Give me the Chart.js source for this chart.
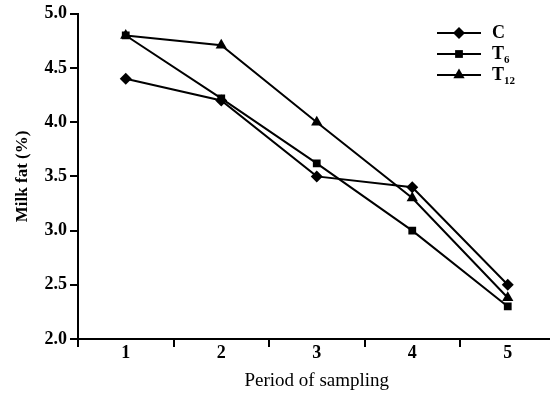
<!DOCTYPE html>
<html>
<head>
<meta charset="utf-8">
<script src="https://cdn.jsdelivr.net/npm/chart.js@4/dist/chart.umd.min.js"></script>
<style>
  html, body { margin: 0; padding: 0; background: #fff; overflow: hidden; }
  #wrap { width: 562px; height: 395px; position: relative; }
</style>
</head>
<body>
<div id="wrap"><canvas id="fatChart"></canvas></div>
<script>
const periods = ["1", "2", "3", "4", "5"];
const seriesNames = ["C", "T6", "T12"];
const milkFatC = [4.4, 4.2, 3.5, 3.4, 2.5];
const milkFatT6 = [4.8, 4.22, 3.62, 3.0, 2.3];
const milkFatT12 = [4.8, 4.71, 4.0, 3.3, 2.38];
const yTicks = [2.0, 2.5, 3.0, 3.5, 4.0, 4.5, 5.0];

const serif = "'Liberation Serif', 'DejaVu Serif', serif";
const markers = ["rectRot", "rect", "triangle"];
const markerSize = [6, 5.5, 6.5];

// legend with subscripts, drawn by hand
const legendPlugin = {
  id: "subLegend",
  afterDraw(chart) {
    const ctx = chart.ctx;
    const rows = [
      { y: 33, main: "C", sub: "" },
      { y: 54, main: "T", sub: "6" },
      { y: 75, main: "T", sub: "12" }
    ];
    ctx.save();
    rows.forEach((row, i) => {
      ctx.strokeStyle = "#000";
      ctx.lineWidth = 2;
      ctx.beginPath();
      ctx.moveTo(437, row.y);
      ctx.lineTo(481, row.y);
      ctx.stroke();
      Chart.helpers.drawPoint(ctx, {
        pointStyle: markers[i],
        radius: markerSize[i],
        borderWidth: 0
      }, 459, row.y);
      ctx.fillStyle = "#000";
      ctx.textBaseline = "middle";
      ctx.font = "bold 18px " + serif;
      ctx.fillText(row.main, 492, row.y);
      if (row.sub) {
        const w = ctx.measureText(row.main).width;
        ctx.font = "bold 11px " + serif;
        ctx.fillText(row.sub, 492 + w, row.y + 6);
      }
    });
    ctx.restore();
  }
};

const makeSet = (label, data, i) => ({
  label,
  data,
  borderColor: "#000",
  backgroundColor: "#000",
  borderWidth: 2,
  pointStyle: markers[i],
  pointRadius: markerSize[i],
  pointBorderWidth: 0,
  pointBackgroundColor: "#000",
  tension: 0
});

new Chart(document.getElementById("fatChart"), {
  type: "line",
  data: {
    labels: periods,
    datasets: [
      makeSet(seriesNames[0], milkFatC, 0),
      makeSet(seriesNames[1], milkFatT6, 1),
      makeSet(seriesNames[2], milkFatT12, 2)
    ]
  },
  options: {
    responsive: true,
    maintainAspectRatio: false,
    animation: false,
    layout: { padding: { top: 13, right: 0, bottom: 0, left: 0 } },
    plugins: {
      legend: { display: false },
      tooltip: { enabled: false }
    },
    scales: {
      x: {
        offset: true,
        grid: {
          display: true,
          offset: true,
          drawOnChartArea: false,
          drawTicks: true,
          tickLength: 8,
          color: "#000",
          lineWidth: 2
        },
        border: { display: true, color: "#000", width: 2 },
        ticks: {
          color: "#000",
          font: { family: serif, size: 18, weight: "bold" },
          padding: -4
        },
        title: {
          display: true,
          text: "Period of sampling",
          color: "#000",
          font: { family: serif, size: 19 },
          padding: { top: 0, bottom: 3 }
        },
        afterFit(scale) { scale.height = 56; }
      },
      y: {
        min: 2,
        max: 5,
        afterBuildTicks(scale) {
          scale.ticks = yTicks.map((v) => ({ value: v }));
        },
        grid: {
          display: true,
          drawOnChartArea: false,
          drawTicks: true,
          tickLength: 8,
          color: "#000",
          lineWidth: 2
        },
        border: { display: true, color: "#000", width: 2 },
        ticks: {
          color: "#000",
          font: { family: serif, size: 18, weight: "bold" },
          padding: 3,
          callback: (v) => Number(v).toFixed(1)
        },
        title: {
          display: true,
          text: "Milk fat (%)",
          color: "#000",
          font: { family: serif, size: 17, weight: "bold" },
          padding: { top: 12, bottom: 0 }
        },
        afterFit(scale) { scale.width = 78; }
      }
    }
  },
  plugins: [legendPlugin]
});
</script>
</body>
</html>
